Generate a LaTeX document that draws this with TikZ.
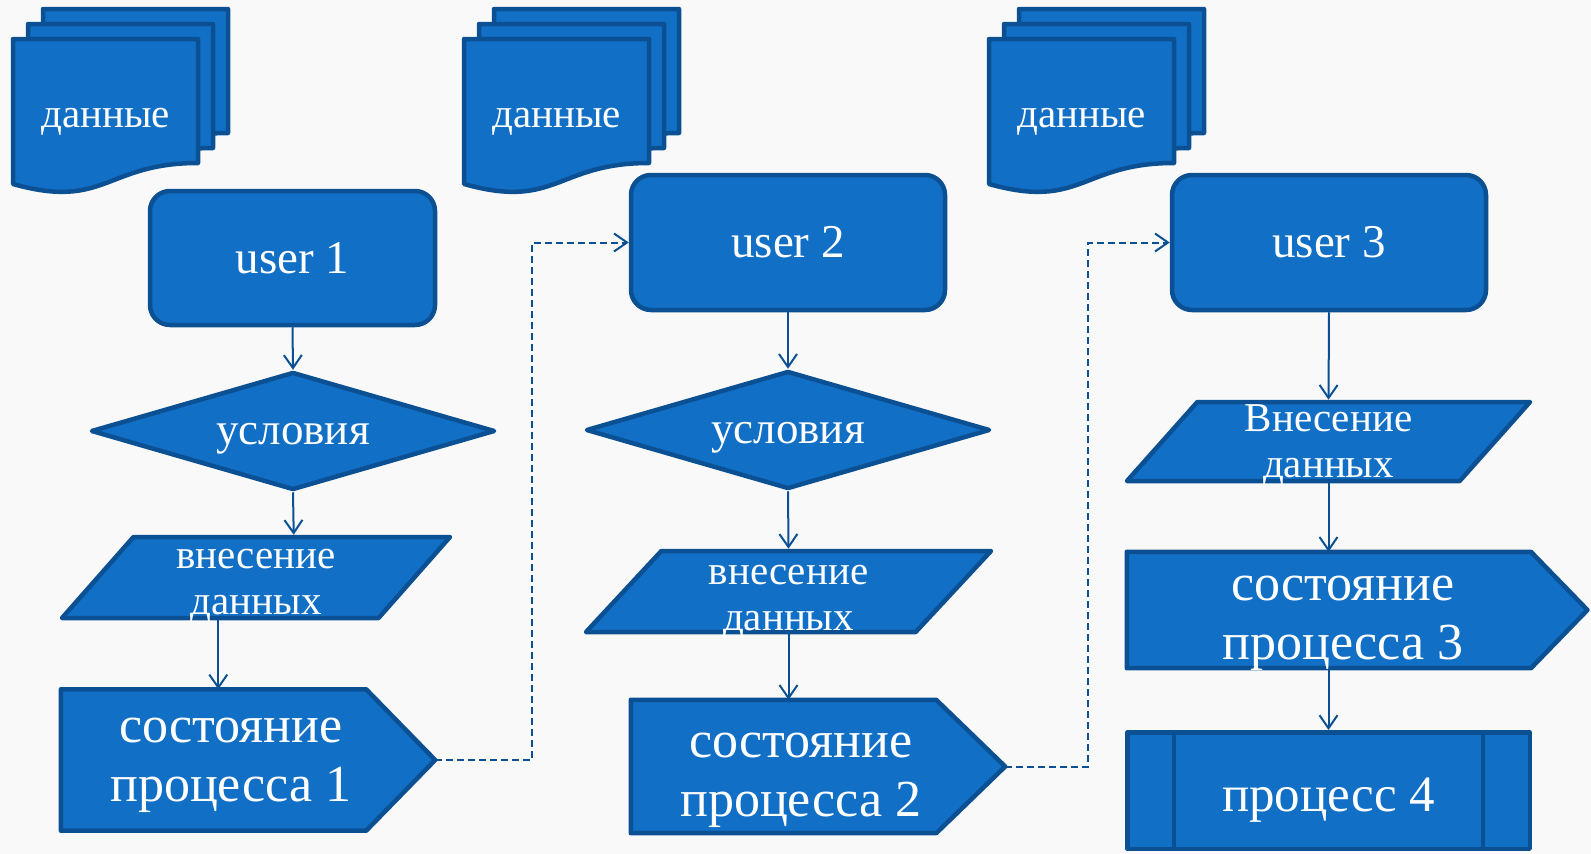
\documentclass[tikz,border=0pt]{standalone}
\usepackage{fontspec}
\setmainfont{Liberation Serif}
\usetikzlibrary{shapes.geometric,arrows.meta,calc,backgrounds}

\definecolor{boxfill}{RGB}{17,111,197}
\definecolor{boxline}{RGB}{12,80,148}
\definecolor{paper}{RGB}{249,249,249}

% two centred lines, first line raised to #1, no depth under the second
\newcommand{\twolines}[3]{\rule{0pt}{#1}#2\\\raisebox{0pt}[\height][0pt]{#3}}

\begin{document}
\begin{tikzpicture}[x=1pt, y=-1pt,
    boxpath/.style={draw=boxline, fill=boxfill, line width=4.5pt, line join=round},
    boxnode/.style={boxpath, text=white, inner sep=0pt, align=center},
    userbox/.style={boxnode, rounded corners=20pt, font=\fontsize{47}{52}\selectfont},
    condbox/.style={boxnode, diamond, aspect=3.3, minimum width=404pt, minimum height=118pt,
        text height=26pt, text depth=0pt, font=\fontsize{45}{50}\selectfont},
    inbox/.style={boxnode, trapezium, trapezium left angle=46, trapezium right angle=134,
        trapezium stretches body, font=\fontsize{41}{46}\selectfont},
    statetext/.style={text=white, inner sep=0pt, align=center, font=\fontsize{52}{59}\selectfont},
    arrowline/.style={draw=boxline, line width=2pt, -{Straight Barb[length=13pt,width=18pt]}},
    jumpline/.style={arrowline, dash pattern=on 7pt off 4pt}]
\useasboundingbox (0,0) rectangle (1591,854);
\begin{pgfonlayer}{background}
    \fill[paper] (0,0) rectangle (1591,854);
\end{pgfonlayer}

% document stacks, back page first
\foreach \x [count=\i] in {13,464,989}{
    \foreach \k in {2,...,0}{
        \filldraw[boxpath, shift={(\x+15*\k,39-15*\k)}] (0,0)--(185,0)--(185,124)
            .. controls (92.5,124) and (92.5,171) .. (0,145)--cycle;
    }
    \node[statetext, text height=23pt, text depth=0pt, font=\fontsize{41}{46}\selectfont] (d\i) at (\x+92.5,116) {данные};
}

\node[userbox, minimum width=285pt, minimum height=134pt] (u1) at (292.5,258) {user 1};
\node[userbox, minimum width=314pt, minimum height=135pt] (u2) at (788,242.5) {user 2};
\node[userbox, minimum width=314pt, minimum height=135pt] (u3) at (1329,242.5) {user 3};

\node[condbox] (c1) at (293,431) {условия};
\node[condbox] (c2) at (788,430) {условия};

\node[inbox, minimum width=388pt, minimum height=81pt] (in1) at (256,577.5) {\twolines{28pt}{внесение}{данных}};
\node[inbox, minimum width=405pt, minimum height=81pt] (in2) at (788.5,591.5) {\twolines{32pt}{внесение}{данных}};
\node[inbox, minimum width=403pt, minimum height=79pt] (in3) at (1328.5,441.5) {\twolines{26pt}{Внесение}{данных}};

\node[statetext, minimum width=339.5pt, minimum height=141pt] (s1) at (230.75,760) {\twolines{21pt}{состояние}{процесса 1}};
\node[statetext, minimum width=339.5pt, minimum height=133pt] (s2) at (800.75,766.5) {\twolines{41pt}{состояние}{процесса 2}};
\node[statetext, minimum width=432pt, minimum height=116pt] (s3) at (1343,610) {\twolines{39pt}{состояние}{процесса 3}};

\node[boxnode, minimum width=402.5pt, minimum height=116.5pt, text height=41pt, text depth=0pt,
    font=\fontsize{51}{56}\selectfont] (p4) at (1328.5,790.5) {процесс 4};
\draw[boxline, line width=4.5pt] ($(p4.north west)+(49,0)$) -- ($(p4.south west)+(49,0)$)
    ($(p4.north east)+(-49,0)$) -- ($(p4.south east)+(-49,0)$);

% pentagons behind the state texts
\begin{pgfonlayer}{background}
    \foreach \n/\e in {s1/34.5,s2/34.5,s3/28.25}
        \filldraw[boxpath] (\n.north west) -- ($(\n.north east)+(-\e,0)$) -- ($(\n.east)+(\e,0)$) coordinate (\n-tip)
            -- ($(\n.south east)+(-\e,0)$) -- (\n.south west) -- cycle;
\end{pgfonlayer}

\draw[arrowline] (u1.south) -- (c1.north);
\draw[arrowline] (c1.south) -- (in1.top side);
\draw[arrowline] (in1.bottom side) -- (in1.bottom side |- s1.north);
\draw[arrowline] (u2.south) -- (c2.north);
\draw[arrowline] (c2.south) -- (in2.north);
\draw[arrowline] (in2.south) -- (in2.south |- s2.north);
\draw[arrowline] (u3.south) -- (in3.north);
\draw[arrowline] (in3.south) -- (in3.south |- s3.north);
\draw[arrowline] (p4.north |- s3.south) -- (p4.north);

\draw[jumpline] (s1-tip) -- ++(97,0) |- (u2.west);
\draw[jumpline] (s2-tip) -- ++(83,0) |- (u3.west);
\end{tikzpicture}
\end{document}
